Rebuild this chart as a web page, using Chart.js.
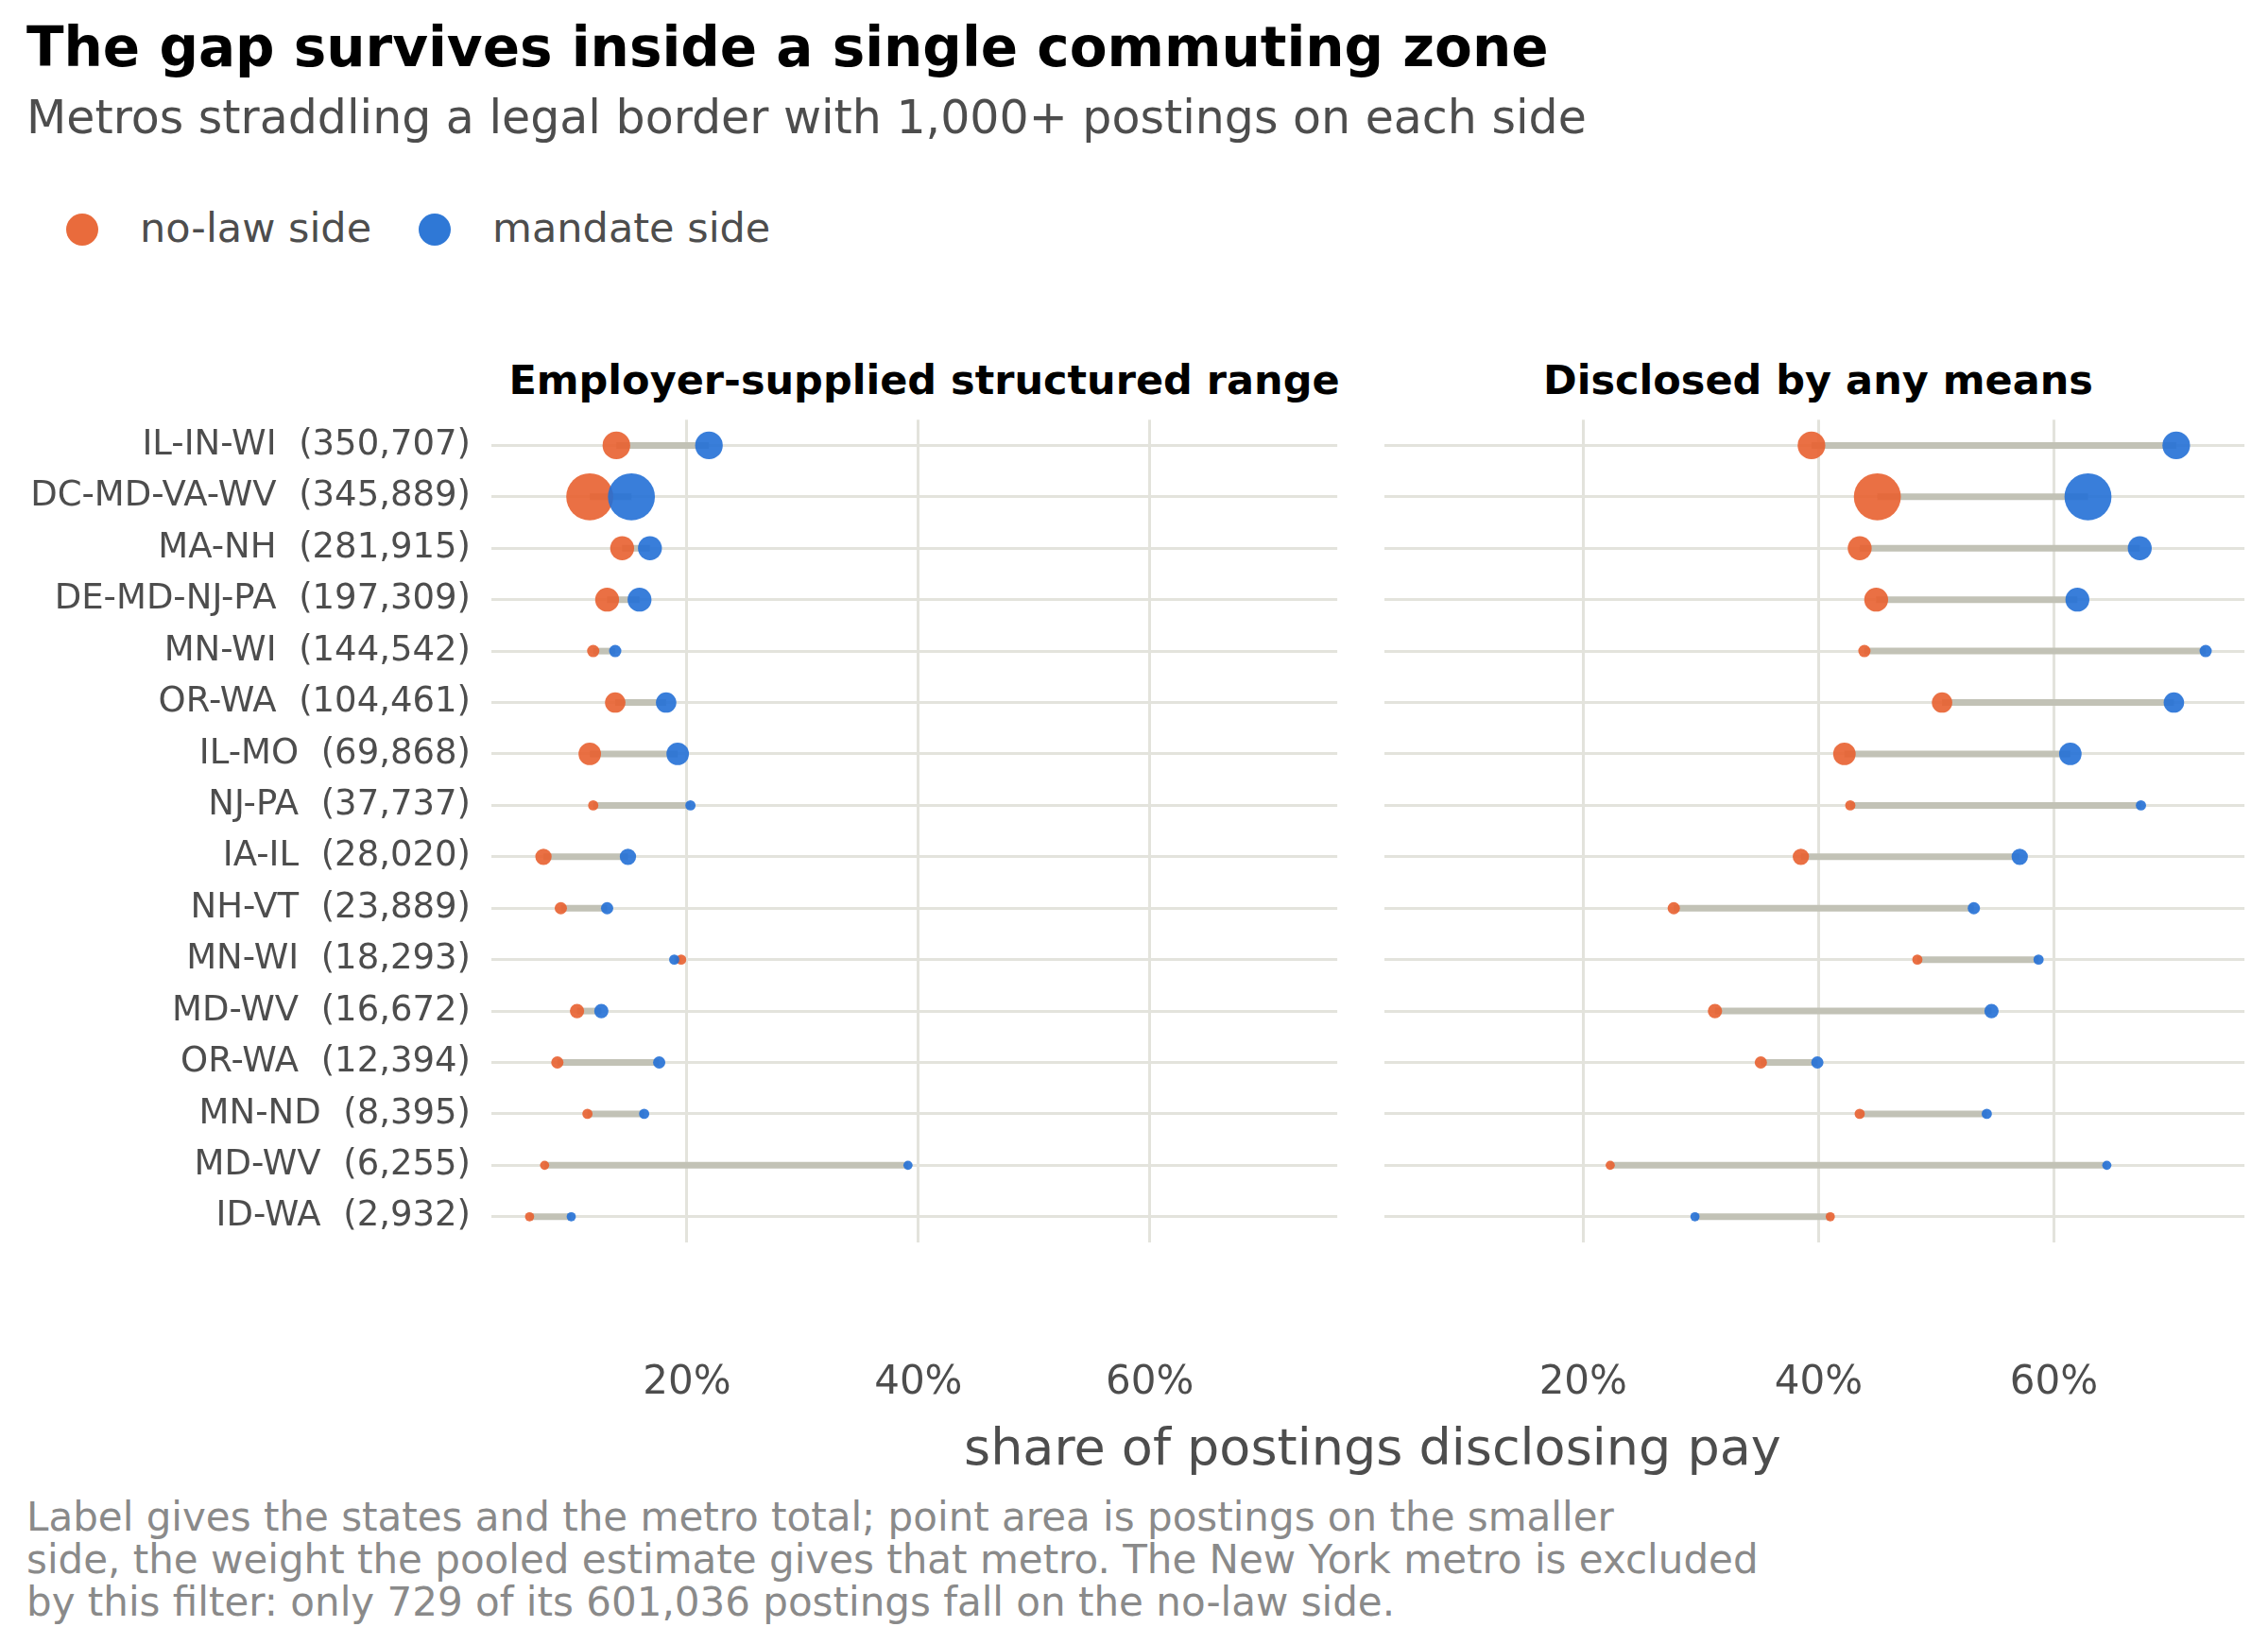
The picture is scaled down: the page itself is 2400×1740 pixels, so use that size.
<!DOCTYPE html>
<html>
<head>
<meta charset="utf-8">
<script src="https://cdn.jsdelivr.net/npm/chart.js@4"></script>
<style>
  body { margin: 0; width: 2400px; height: 1740px; background: #fff; font-family: "DejaVu Sans", sans-serif; position: relative; overflow: hidden; }
  .t { position: absolute; white-space: nowrap; }
  #title { left: 28px; top: 16px; font-size: 58px; font-weight: bold; color: #000; }
  #sub { left: 28px; top: 96px; font-size: 49px; color: #4d4d4d; }
  #legend { left: 70px; top: 216px; font-size: 43px; color: #4d4d4d; }
  .dot { display: inline-block; width: 34px; height: 34px; border-radius: 50%; vertical-align: -4px; margin-right: 44px; }
  .p1 { top: 377px; font-size: 43px; font-weight: bold; text-align: center; width: 1000px; }
  #xt { left: 1020px; top: 1500px; font-size: 54px; color: #4d4d4d; }
  #cap { left: 28px; top: 1583px; font-size: 42px; color: #8a8a8a; line-height: 45px; white-space: normal; width: 2200px; }
  canvas { position: absolute; }
</style>
</head>
<body>
<div class="t" id="title">The gap survives inside a single commuting zone</div>
<div class="t" id="sub">Metros straddling a legal border with 1,000+ postings on each side</div>
<div class="t" id="legend"><span class="dot" style="background:#e96b3c"></span>no-law side<span style="display:inline-block;width:50px"></span><span class="dot" style="background:#2f78d6"></span>mandate side</div>
<div class="t p1" style="left:478px">Employer-supplied structured range</div>
<div class="t p1" style="left:1424px">Disclosed by any means</div>
<div class="t" id="xt">share of postings disclosing pay</div>
<div class="t" id="cap">Label gives the states and the metro total; point area is postings on the smaller<br>side, the weight the pooled estimate gives that metro. The New York metro is excluded<br>by this filter: only 729 of its 601,036 postings fall on the no-law side.</div>
<div style="position:absolute;left:0;top:400px;width:1440px;height:1100px"><canvas id="c1"></canvas></div>
<div style="position:absolute;left:1440px;top:400px;width:960px;height:1100px"><canvas id="c2"></canvas></div>
<script>
const metros = ['IL-IN-WI  (350,707)', 'DC-MD-VA-WV  (345,889)', 'MA-NH  (281,915)', 'DE-MD-NJ-PA  (197,309)',
  'MN-WI  (144,542)', 'OR-WA  (104,461)', 'IL-MO  (69,868)', 'NJ-PA  (37,737)', 'IA-IL  (28,020)',
  'NH-VT  (23,889)', 'MN-WI  (18,293)', 'MD-WV  (16,672)', 'OR-WA  (12,394)', 'MN-ND  (8,395)',
  'MD-WV  (6,255)', 'ID-WA  (2,932)'];
// postings on the smaller side (estimated from point area)
const smallerSide = [38000, 110000, 28500, 28500, 7500, 20800, 25200, 5200, 13300, 7500, 5200, 10200, 7500, 5200, 4200, 4200];
const rangeNoLaw   = [13.9, 11.6, 14.4, 13.1, 11.9, 13.8, 11.6, 11.9, 7.6, 9.1, 19.5, 10.5, 8.8, 11.4, 7.7, 6.4];
const rangeMandate = [21.9, 15.2, 16.8, 15.9, 13.8, 18.2, 19.2, 20.3, 14.9, 13.1, 18.9, 12.6, 17.6, 16.3, 39.1, 10.0];
const anyNoLaw     = [39.4, 45.0, 43.5, 44.9, 43.9, 50.5, 42.2, 42.7, 38.5, 27.7, 48.4, 31.2, 35.1, 43.5, 22.3, 41.0];
const anyMandate   = [70.4, 62.9, 67.3, 62.0, 72.9, 70.2, 61.4, 67.4, 57.1, 53.2, 58.7, 54.7, 39.9, 54.3, 64.5, 29.5];
const xTicks = [20, 40, 60];

const radius = smallerSide.map(n => 0.075 * Math.sqrt(n));
const grid = '#e3e3dc';

const segments = {
  id: 'segments',
  beforeDatasetsDraw(chart, args, opts) {
    const ctx = chart.ctx, xs = chart.scales.x, ys = chart.scales.y;
    ctx.save();
    ctx.strokeStyle = '#c2c2b6';
    ctx.lineWidth = 7;
    opts.lo.forEach((v, i) => {
      const y = ys.getPixelForValue(i);
      ctx.beginPath();
      ctx.moveTo(xs.getPixelForValue(v), y);
      ctx.lineTo(xs.getPixelForValue(opts.hi[i]), y);
      ctx.stroke();
    });
    ctx.restore();
  }
};

function makeChart(id, lo, hi, showLabels) {
  return new Chart(document.getElementById(id), {
    type: 'scatter',
    data: {
      datasets: [
        { label: 'mandate side', data: hi.map((v, i) => ({ x: v, y: metros[i] })),
          backgroundColor: 'rgba(35,112,214,0.9)', pointRadius: radius, pointHoverRadius: radius, borderWidth: 0 },
        { label: 'no-law side', data: lo.map((v, i) => ({ x: v, y: metros[i] })),
          backgroundColor: 'rgba(232,96,48,0.9)', pointRadius: radius, pointHoverRadius: radius, borderWidth: 0 }
      ]
    },
    options: {
      animation: false,
      responsive: true,
      maintainAspectRatio: false,
      layout: { padding: { top: 0, right: showLabels ? 3 : 13, bottom: 0, left: 0 } },
      plugins: { legend: { display: false }, tooltip: { enabled: false }, segments: { lo, hi } },
      scales: {
        x: {
          type: 'linear', min: 3.1, max: 76.2,
          afterBuildTicks: s => { s.ticks = xTicks.map(v => ({ value: v })); },
          afterFit: s => { s.height = 185; },
          grid: { color: grid, lineWidth: 3, drawTicks: false },
          border: { display: false },
          ticks: { callback: v => v + '%', color: '#4d4d4d', font: { family: 'DejaVu Sans', size: 42 }, padding: 124 }
        },
        y: {
          type: 'category', labels: metros, offset: true,
          afterFit: s => { s.width = showLabels ? 520 : 21; },
          grid: { color: grid, lineWidth: 3, offset: false, drawTicks: false },
          border: { display: false },
          ticks: { color: showLabels ? '#4d4d4d' : 'rgba(0,0,0,0)', font: { family: 'DejaVu Sans', size: 37 }, padding: 22 }
        }
      }
    },
    plugins: [segments]
  });
}

makeChart('c1', rangeNoLaw, rangeMandate, true);
makeChart('c2', anyNoLaw, anyMandate, false);
</script>
</body>
</html>
